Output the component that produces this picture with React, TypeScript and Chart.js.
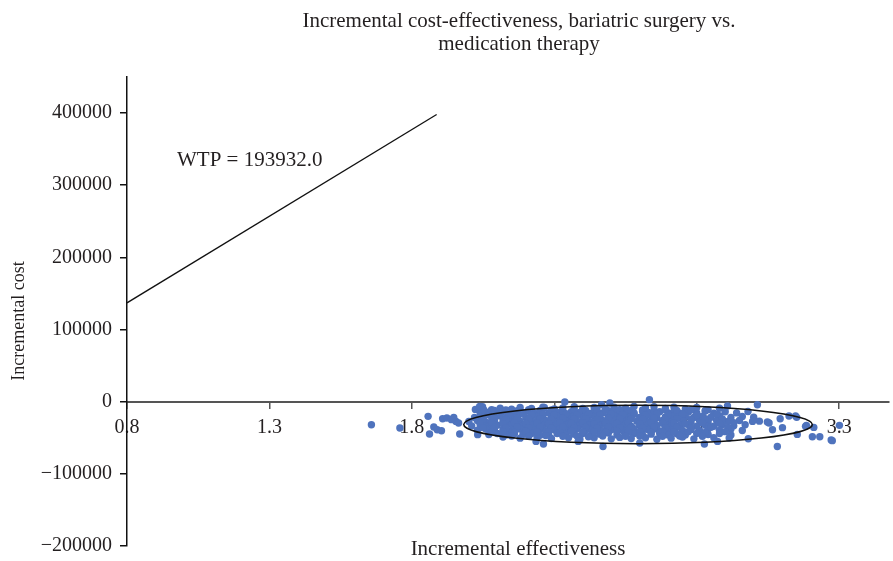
import React, { useEffect, useRef } from "react";
import { Chart, registerables } from "chart.js";

Chart.register(...registerables);

const TITLE_LINES = ["Incremental cost-effectiveness, bariatric surgery vs.", "medication therapy"];
const X_TITLE = "Incremental effectiveness";
const Y_TITLE = "Incremental cost";
const WTP_LABEL = "WTP = 193932.0";

const X_TICKS = [0.8, 1.3, 1.8, 2.3, 2.8, 3.3];
const Y_TICKS = [-200000, -100000, 0, 100000, 200000, 300000, 400000];
const X_RANGE = [0.8, 3.475];
const Y_RANGE = [-200000, 450000];

const WTP_LINE_X = [0.8, 1.887];
const WTP_LINE_Y = [137000, 398000];

const ELLIPSE_CENTER = [2.594, -31600];
const ELLIPSE_RADII = [0.612, 26600];

const clusterRow1: [number, number][] = [[2.08,-11000],[2.11,-9000],[2.15,-10500],[2.18,-8000],[2.22,-9500],[2.26,-7500],[2.30,-10000],[2.33,-8500],[2.37,-7000],[2.40,-9500],[2.44,-8000],[2.48,-10500],[2.51,-7500],[2.55,-9000],[2.58,-6500],[2.62,-8500],[2.65,-7000],[2.69,-9500],[2.72,-7500],[2.76,-10000],[2.80,-8000],[2.84,-11000],[2.88,-9000]];
const clusterRow2: [number, number][] = [[2.04,-16000],[2.07,-14500],[2.10,-15500],[2.12,-13500],[2.14,-16500],[2.16,-14000],[2.19,-15000],[2.21,-13000],[2.23,-16000],[2.25,-14500],[2.28,-15500],[2.30,-13500],[2.32,-15000],[2.34,-16500],[2.36,-14000],[2.39,-15000],[2.41,-13500],[2.43,-16000],[2.45,-14500],[2.47,-15500],[2.50,-13500],[2.52,-15000],[2.54,-16500],[2.56,-14000],[2.58,-15500],[2.61,-13500],[2.63,-15000],[2.65,-16000],[2.67,-14000],[2.70,-15500],[2.72,-13500],[2.74,-16000],[2.77,-14500],[2.80,-15500],[2.83,-13000],[2.86,-16000],[2.90,-14000],[2.94,-15500],[2.98,-13500]];
const clusterRow3: [number, number][] = [[2.02,-22000],[2.05,-20500],[2.08,-21500],[2.11,-20000],[2.13,-22500],[2.15,-21000],[2.17,-20000],[2.20,-22000],[2.22,-21000],[2.24,-20000],[2.26,-22500],[2.29,-21000],[2.31,-20000],[2.33,-22000],[2.35,-21000],[2.37,-19500],[2.40,-22000],[2.42,-21000],[2.44,-20000],[2.46,-22500],[2.49,-21000],[2.51,-20000],[2.53,-22000],[2.55,-21000],[2.57,-19500],[2.60,-22000],[2.62,-21000],[2.64,-20000],[2.66,-22500],[2.69,-21000],[2.71,-20000],[2.73,-22000],[2.76,-20500],[2.79,-22000],[2.82,-20000],[2.85,-21500],[2.88,-19500],[2.92,-22000],[2.96,-20500],[3.00,-21500]];
const clusterRow4: [number, number][] = [[2.00,-27500],[2.03,-26000],[2.06,-28000],[2.09,-26500],[2.12,-27500],[2.14,-26000],[2.16,-28500],[2.18,-27000],[2.21,-26000],[2.23,-28000],[2.25,-27000],[2.27,-26000],[2.30,-28000],[2.32,-27000],[2.34,-25500],[2.36,-28000],[2.38,-27000],[2.41,-26000],[2.43,-28500],[2.45,-27000],[2.47,-26000],[2.50,-28000],[2.52,-27000],[2.54,-25500],[2.56,-28000],[2.59,-27000],[2.61,-26000],[2.63,-28500],[2.65,-27000],[2.68,-26000],[2.70,-28000],[2.72,-27000],[2.75,-25500],[2.78,-28000],[2.81,-26500],[2.84,-28000],[2.87,-26000],[2.91,-27500],[2.95,-26000],[3.02,-27000]];
const clusterRow5: [number, number][] = [[2.01,-33500],[2.04,-32000],[2.07,-34000],[2.10,-32500],[2.13,-33500],[2.15,-32000],[2.17,-34500],[2.19,-33000],[2.22,-32000],[2.24,-34000],[2.26,-33000],[2.28,-32000],[2.31,-34000],[2.33,-33000],[2.35,-31500],[2.37,-34000],[2.39,-33000],[2.42,-32000],[2.44,-34500],[2.46,-33000],[2.48,-32000],[2.51,-34000],[2.53,-33000],[2.55,-31500],[2.57,-34000],[2.60,-33000],[2.62,-32000],[2.64,-34500],[2.66,-33000],[2.69,-32000],[2.71,-34000],[2.74,-33000],[2.77,-31500],[2.80,-34000],[2.83,-32500],[2.86,-34000],[2.89,-32000],[2.93,-33500],[2.97,-32000]];
const clusterRow6: [number, number][] = [[2.03,-39500],[2.06,-38000],[2.09,-40000],[2.12,-38500],[2.14,-40500],[2.16,-39000],[2.18,-38000],[2.21,-40000],[2.23,-39000],[2.25,-38000],[2.27,-40500],[2.30,-39000],[2.32,-38000],[2.34,-40000],[2.36,-39000],[2.38,-37500],[2.41,-40000],[2.43,-39000],[2.45,-38000],[2.47,-40500],[2.50,-39000],[2.52,-38000],[2.54,-40000],[2.56,-39000],[2.58,-37500],[2.61,-40000],[2.63,-39000],[2.65,-38000],[2.67,-40500],[2.70,-39000],[2.72,-38000],[2.75,-40000],[2.78,-38500],[2.81,-40000],[2.84,-38000],[2.88,-39500],[2.92,-38000],[2.96,-40000]];
const clusterRow7: [number, number][] = [[2.07,-45500],[2.10,-44000],[2.13,-46000],[2.16,-44500],[2.19,-45500],[2.22,-44000],[2.25,-46500],[2.28,-45000],[2.31,-44000],[2.34,-46000],[2.37,-45000],[2.40,-44000],[2.43,-46000],[2.46,-45000],[2.49,-43500],[2.52,-46000],[2.55,-45000],[2.58,-44000],[2.61,-46500],[2.64,-45000],[2.67,-44000],[2.70,-46000],[2.73,-44500],[2.76,-46000],[2.80,-44000],[2.84,-45500],[2.88,-44000],[2.92,-46000]];
const clusterRow8: [number, number][] = [[2.12,-49000],[2.18,-50500],[2.24,-49500],[2.29,-51000],[2.35,-50000],[2.39,-52000],[2.44,-50000],[2.50,-51500],[2.53,-49500],[2.57,-51000],[2.62,-50000],[2.66,-52000],[2.71,-50500],[2.75,-49000],[2.79,-51500],[2.86,-50000]];
const clusterHalfA: [number, number][] = [[2.09,-12000],[2.13,-11500],[2.17,-12500],[2.21,-11000],[2.25,-12000],[2.29,-11500],[2.33,-12500],[2.37,-11000],[2.41,-12000],[2.45,-11500],[2.49,-12500],[2.53,-11000],[2.57,-12000],[2.61,-11500],[2.65,-12500],[2.69,-11000],[2.73,-12000],[2.78,-11500],[2.83,-12500]];
const clusterHalfB: [number, number][] = [[2.06,-18000],[2.10,-17500],[2.14,-18500],[2.18,-17000],[2.22,-18000],[2.26,-17500],[2.30,-18500],[2.34,-17000],[2.38,-18000],[2.42,-17500],[2.46,-18500],[2.50,-17000],[2.54,-18000],[2.58,-17500],[2.62,-18500],[2.66,-17000],[2.70,-18000],[2.75,-17500],[2.80,-18500],[2.87,-17500]];
const clusterHalfC: [number, number][] = [[2.05,-24000],[2.09,-23500],[2.13,-24500],[2.17,-23000],[2.21,-24000],[2.25,-23500],[2.29,-24500],[2.33,-23000],[2.37,-24000],[2.41,-23500],[2.45,-24500],[2.49,-23000],[2.53,-24000],[2.57,-23500],[2.61,-24500],[2.65,-23000],[2.69,-24000],[2.73,-23500],[2.78,-24500],[2.83,-23500],[2.89,-24000]];
const clusterHalfD: [number, number][] = [[2.04,-30000],[2.08,-29500],[2.12,-30500],[2.16,-29000],[2.20,-30000],[2.24,-29500],[2.28,-30500],[2.32,-29000],[2.36,-30000],[2.40,-29500],[2.44,-30500],[2.48,-29000],[2.52,-30000],[2.56,-29500],[2.60,-30500],[2.64,-29000],[2.68,-30000],[2.72,-29500],[2.76,-30500],[2.82,-29500],[2.88,-30000],[2.93,-29000]];
const clusterHalfE: [number, number][] = [[2.05,-36000],[2.09,-35500],[2.13,-36500],[2.17,-35000],[2.21,-36000],[2.25,-35500],[2.29,-36500],[2.33,-35000],[2.37,-36000],[2.41,-35500],[2.45,-36500],[2.49,-35000],[2.53,-36000],[2.57,-35500],[2.61,-36500],[2.65,-35000],[2.69,-36000],[2.73,-35500],[2.78,-36500],[2.85,-35500],[2.91,-36000]];
const clusterHalfF: [number, number][] = [[2.08,-42000],[2.12,-41500],[2.16,-42500],[2.20,-41000],[2.24,-42000],[2.28,-41500],[2.32,-42500],[2.36,-41000],[2.40,-42000],[2.44,-41500],[2.48,-42500],[2.52,-41000],[2.56,-42000],[2.60,-41500],[2.64,-42500],[2.68,-41000],[2.72,-42000],[2.77,-41500],[2.83,-42500],[2.90,-41500]];
const clusterHalfG: [number, number][] = [[2.15,-47500],[2.21,-48000],[2.27,-47000],[2.33,-48000],[2.38,-47500],[2.42,-48500],[2.47,-47500],[2.55,-48000],[2.60,-47500],[2.68,-48000],[2.74,-47500],[2.82,-48000]];
const outlierPoints: [number, number][] = [[1.658,-31900],[1.758,-36500],[1.857,-20300],[1.862,-44800],[1.877,-35100],[1.889,-38800],[1.904,-40200],[1.908,-23600],[1.923,-22600],[1.947,-21700],[1.955,-27300],[1.964,-29500],[1.968,-44800],[1.939,-24900],[2.023,-10700],[2.048,-6900],[2.038,-6500],[2.052,-11100],[2.031,-45700],[2.236,-55000],[2.262,-58600],[2.265,-7900],[2.337,-400],[2.466,-4200],[2.495,-1800],[2.634,2800],[2.471,-62000],[2.60,-57300],[2.384,-55000],[2.827,-58600],[3.083,-62000],[3.066,-38800],[3.054,-29600],[3.013,-4200],[2.996,-27300],[2.914,-50300],[2.873,-55000],[2.908,-6000],[3.048,-28200],[3.101,-36000],[3.124,-19800],[3.147,-19800],[3.185,-32800],[3.153,-45300],[3.206,-48500],[3.232,-48500],[3.272,-53100],[3.301,-32800],[2.981,-51300],[3.093,-23600],[3.151,-21700],[3.182,-34200],[3.211,-35600],[3.276,-54000]];

const FONT = '"Liberation Serif", "Times New Roman", serif';
const TEXT_COLOR = "#231f20";
const POINT_COLOR = "#4f73bd";

const textPlugin = {
  id: "annotText",
  afterDraw(chart: any) {
    const ctx = chart.ctx;
    ctx.save();
    ctx.fillStyle = TEXT_COLOR;
    ctx.font = `21px ${FONT}`;
    ctx.textAlign = "center";
    ctx.textBaseline = "alphabetic";
    ctx.fillText(TITLE_LINES[0], 519, 27);
    ctx.fillText(TITLE_LINES[1], 519, 50);
    ctx.fillText(X_TITLE, 518, 555);
    ctx.textAlign = "left";
    ctx.fillText(WTP_LABEL, 177, 166);
    ctx.font = `18px ${FONT}`;
    ctx.translate(24, 321);
    ctx.rotate(-Math.PI / 2);
    ctx.textAlign = "center";
    ctx.fillText(Y_TITLE, 0, 0);
    ctx.restore();
  },
};

const ellipsePlugin = {
  id: "ellipse",
  afterDatasetsDraw(chart: any) {
    const { ctx, scales } = chart;
    const cx = scales.x.getPixelForValue(ELLIPSE_CENTER[0]);
    const cy = scales.y.getPixelForValue(ELLIPSE_CENTER[1]);
    const rx = Math.abs(scales.x.getPixelForValue(ELLIPSE_CENTER[0] + ELLIPSE_RADII[0]) - cx);
    const ry = Math.abs(scales.y.getPixelForValue(ELLIPSE_CENTER[1] + ELLIPSE_RADII[1]) - cy);
    ctx.save();
    ctx.strokeStyle = "#111";
    ctx.lineWidth = 1.6;
    ctx.beginPath();
    ctx.ellipse(cx, cy, rx, ry, 0, 0, Math.PI * 2);
    ctx.stroke();
    ctx.restore();
  },
};

export default function App() {
  const ref = useRef<HTMLCanvasElement | null>(null);
  useEffect(() => {
    if (!ref.current) return;
    const points = [
      ...clusterRow1, ...clusterRow2, ...clusterRow3, ...clusterRow4,
      ...clusterRow5, ...clusterRow6, ...clusterRow7, ...clusterRow8,
      ...clusterHalfA, ...clusterHalfB, ...clusterHalfC, ...clusterHalfD,
      ...clusterHalfE, ...clusterHalfF, ...clusterHalfG, ...outlierPoints,
    ].map(([x, y]) => ({ x, y }));
    const chart = new Chart(ref.current, {
      type: "scatter",
      data: {
        datasets: [
          {
            type: "line",
            data: WTP_LINE_X.map((x, i) => ({ x, y: WTP_LINE_Y[i] })),
            borderColor: "#111",
            borderWidth: 1.3,
            pointRadius: 0,
            fill: false,
          } as any,
          {
            data: points,
            backgroundColor: POINT_COLOR,
            borderWidth: 0,
            pointRadius: 3.7,
          },
        ],
      },
      plugins: [ellipsePlugin, textPlugin],
      options: {
        responsive: false,
        animation: false,
        devicePixelRatio: 1,
        layout: { padding: { top: 77, right: 2, left: 0, bottom: 15 } },
        plugins: { legend: { display: false }, tooltip: { enabled: false }, title: { display: false } },
        scales: {
          x: {
            type: "linear",
            position: { y: 0 } as any,
            min: X_RANGE[0],
            max: X_RANGE[1],
            afterBuildTicks: (s: any) => { s.ticks = X_TICKS.map((v) => ({ value: v })); },
            afterFit: (s: any) => { s.height = 15; s.paddingLeft = 0; s.paddingRight = 0; },
            grid: { display: true, drawOnChartArea: false, drawTicks: true, tickLength: 6, color: "#555", lineWidth: 1.5 },
            border: { display: true, color: "#555", width: 2 },
            ticks: {
              padding: 8,
              color: TEXT_COLOR,
              font: { family: FONT, size: 20 },
              maxRotation: 0,
              autoSkip: false,
              callback: (v: any) => Number(v).toFixed(1),
            },
          },
          y: {
            type: "linear",
            position: "left",
            min: Y_RANGE[0],
            max: Y_RANGE[1],
            afterBuildTicks: (s: any) => { s.ticks = Y_TICKS.map((v) => ({ value: v })); },
            afterFit: (s: any) => { s.width = 127; s.paddingTop = 0; s.paddingBottom = 0; },
            grid: { display: true, drawOnChartArea: false, drawTicks: true, tickLength: 7, color: "#111", lineWidth: 1.5 },
            border: { display: true, color: "#111", width: 1.5 },
            ticks: {
              padding: 8,
              color: TEXT_COLOR,
              font: { family: FONT, size: 20 },
              autoSkip: false,
              callback: (v: any) => (Number(v) < 0 ? "\u2212" + Math.abs(Number(v)) : String(v)),
            },
          },
        },
      },
    });
    return () => chart.destroy();
  }, []);
  return (
    <div style={{ position: "fixed", left: 0, top: 0, width: 893, height: 561, background: "#fff" }}>
      <canvas ref={ref} width={893} height={561} style={{ width: 893, height: 561, display: "block" }} />
    </div>
  );
}
